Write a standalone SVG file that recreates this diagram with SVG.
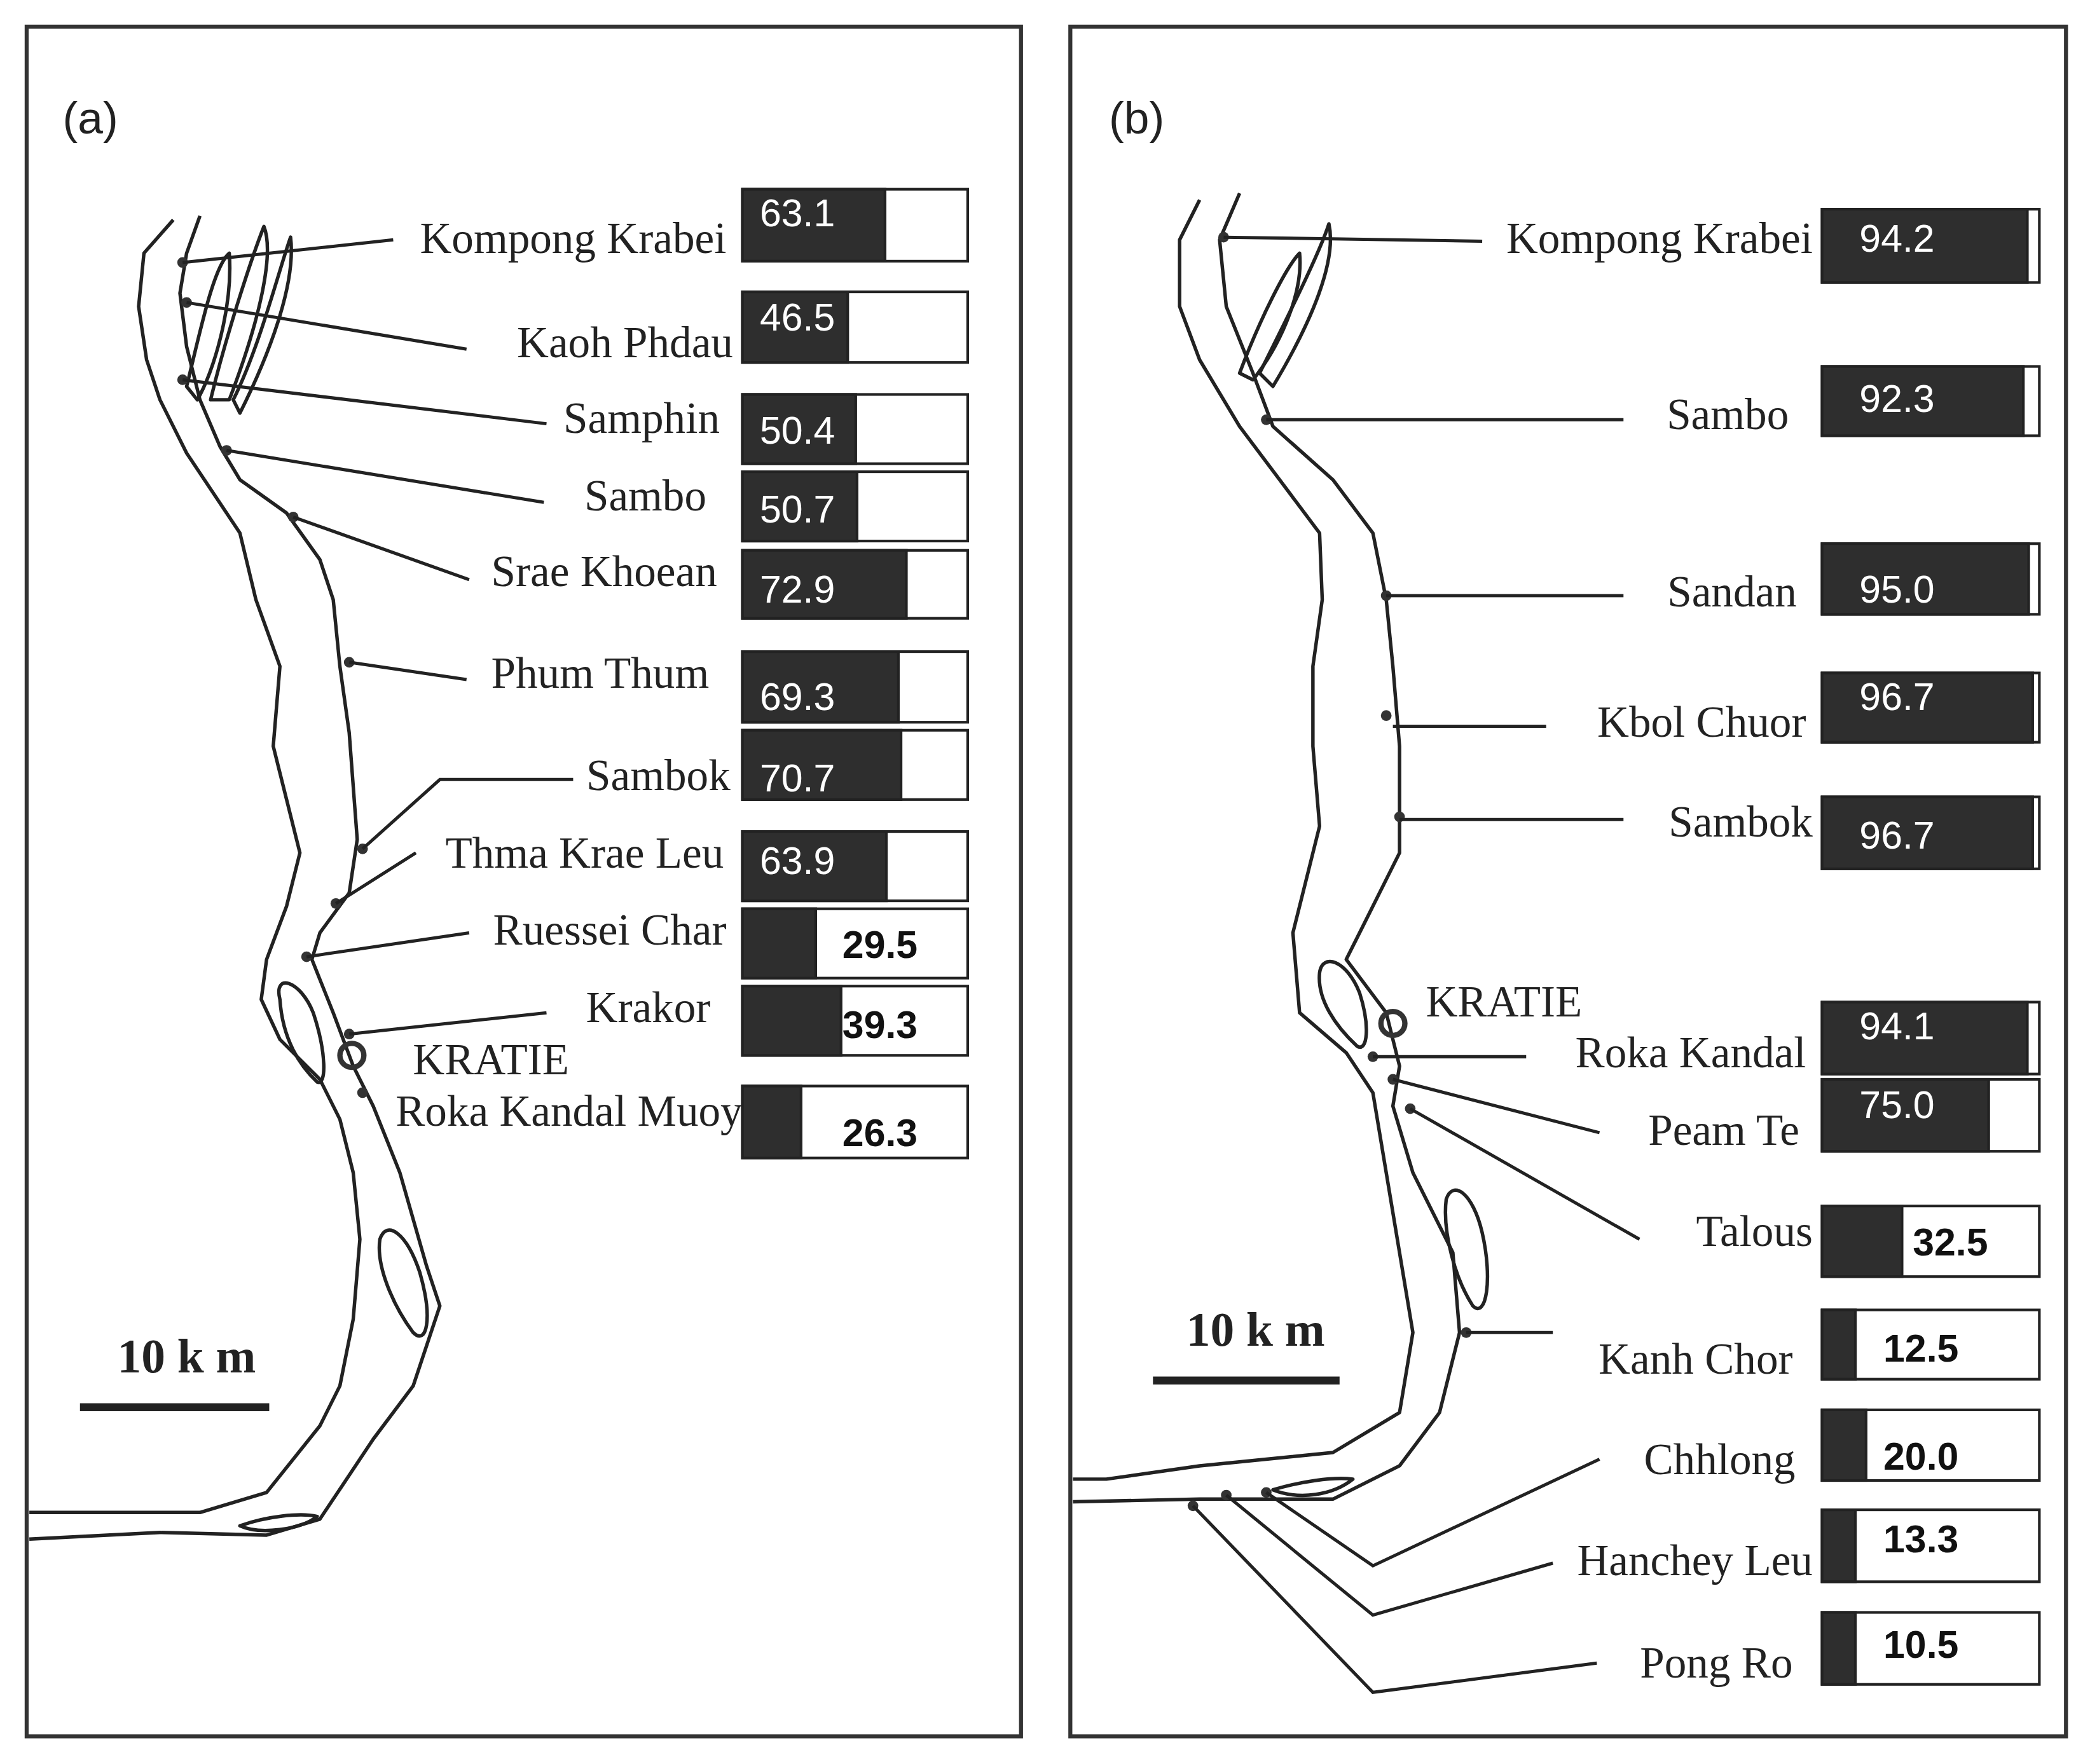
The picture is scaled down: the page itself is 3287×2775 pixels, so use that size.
<svg xmlns="http://www.w3.org/2000/svg" width="3287" height="2775" viewBox="0 0 3287 2775">
<style>
.fr{fill:#fff;stroke:#333;stroke-width:3}
.rv{fill:none;stroke:#222;stroke-width:2.6;stroke-linejoin:round}
.ld{fill:none;stroke:#222;stroke-width:2.4}
.dot{fill:#333}
.lb{font-family:"Liberation Serif",serif;font-size:33px;fill:#222;text-anchor:end}
.dk{fill:#2e2e2e;stroke:#222;stroke-width:2}
.wh{fill:#fff;stroke:#222;stroke-width:2}
.nw{font-family:"Liberation Sans",sans-serif;font-size:29px;fill:#fff}
.nb{font-family:"Liberation Sans",sans-serif;font-size:29px;font-weight:bold;fill:#111}
.pl{font-family:"Liberation Sans",sans-serif;font-size:34px;fill:#222}
.sc{font-family:"Liberation Serif",serif;font-size:36px;font-weight:bold;fill:#222}
</style>
<rect width="3287" height="2775" fill="#fff"/>
<g transform="scale(2.0963)">
<g id="panel-a">
<rect class="fr" x="20" y="20" width="746" height="1283"/>
<text class="pl" x="47" y="100">(a)</text>
<g id="river-a">
<polyline class="rv" points="130,165 108,190 104,230 110,270 120,300 140,340 180,400 192,450 210,500 205,560 215,600 225,640 215,680 200,720 196,750 210,780 240,810 255,840 265,880 270,930 265,990 255,1040 240,1070 200,1120 150,1135 60,1135 22,1135"/>
<polyline class="rv" points="150,162 140,190 135,220 140,260 150,300 165,335 180,360 215,385 240,420 250,450 255,500 262,550 268,630 262,670 240,700 234,720 250,760 265,800 280,830 300,880 320,950 330,980 310,1040 280,1080 260,1110 240,1140 200,1152 120,1150 22,1155"/>
<path class="rv" d="M140,290 C150,250 160,200 172,190 C175,230 160,280 148,300 Z"/>
<path class="rv" d="M158,300 C170,250 190,190 198,170 C206,190 195,240 172,300 Z"/>
<path class="rv" d="M175,300 C195,260 210,200 218,178 C222,210 205,260 180,310 Z"/>
<path class="rv" d="M210,750 C205,730 225,735 235,760 C245,790 245,815 238,812 C225,800 212,780 210,750 Z"/>
<path class="rv" d="M285,930 C290,915 305,925 315,955 C325,990 320,1010 310,1000 C295,980 282,950 285,930 Z"/>
<path class="rv" d="M180,1145 C200,1138 225,1135 238,1138 C225,1148 195,1152 180,1145 Z"/>
</g>
<g id="markers-a">
<circle class="dot" cx="137" cy="197" r="4"/><circle class="dot" cx="140" cy="227" r="4"/><circle class="dot" cx="137" cy="285" r="4"/><circle class="dot" cx="170" cy="338" r="4"/><circle class="dot" cx="220" cy="388" r="4"/><circle class="dot" cx="262" cy="497" r="4"/><circle class="dot" cx="272" cy="637" r="4"/><circle class="dot" cx="252" cy="678" r="4"/><circle class="dot" cx="230" cy="718" r="4"/><circle class="dot" cx="262" cy="776" r="4"/><circle class="dot" cx="272" cy="820" r="4"/>
<circle cx="264" cy="792" r="9" fill="none" stroke="#333" stroke-width="4"/>
</g>
<g id="connectors-a">
<line class="ld" x1="137" y1="197" x2="295" y2="180"/>
<line class="ld" x1="140" y1="227" x2="350" y2="262"/>
<line class="ld" x1="137" y1="285" x2="410" y2="318"/>
<line class="ld" x1="170" y1="338" x2="408" y2="377"/>
<line class="ld" x1="220" y1="388" x2="352" y2="435"/>
<line class="ld" x1="262" y1="497" x2="350" y2="510"/>
<polyline class="ld" points="272,637 330,585 430,585"/>
<line class="ld" x1="252" y1="678" x2="312" y2="640"/>
<line class="ld" x1="230" y1="718" x2="352" y2="700"/>
<line class="ld" x1="262" y1="776" x2="410" y2="760"/>
</g>
<g id="labels-a">
<text class="lb" x="545" y="190">Kompong Krabei</text>
<text class="lb" x="550" y="268">Kaoh Phdau</text>
<text class="lb" x="540" y="325">Samphin</text>
<text class="lb" x="530" y="383">Sambo</text>
<text class="lb" x="538" y="440">Srae Khoean</text>
<text class="lb" x="532" y="516">Phum Thum</text>
<text class="lb" x="548" y="593">Sambok</text>
<text class="lb" x="543" y="651">Thma Krae Leu</text>
<text class="lb" x="545" y="709">Ruessei Char</text>
<text class="lb" x="533" y="767">Krakor</text>
<text class="lb" x="427" y="806">KRATIE</text>
<text class="lb" x="557" y="845">Roka Kandal Muoy</text>
</g>
<g id="bars-a">
<rect class="wh" x="557" y="142" width="169" height="54"/><rect class="dk" x="557" y="142" width="107" height="54"/><text class="nw" x="570" y="170">63.1</text>
<rect class="wh" x="557" y="219" width="169" height="53"/><rect class="dk" x="557" y="219" width="79" height="53"/><text class="nw" x="570" y="248">46.5</text>
<rect class="wh" x="557" y="296" width="169" height="52"/><rect class="dk" x="557" y="296" width="85" height="52"/><text class="nw" x="570" y="333">50.4</text>
<rect class="wh" x="557" y="354" width="169" height="52"/><rect class="dk" x="557" y="354" width="86" height="52"/><text class="nw" x="570" y="392">50.7</text>
<rect class="wh" x="557" y="413" width="169" height="51"/><rect class="dk" x="557" y="413" width="123" height="51"/><text class="nw" x="570" y="452">72.9</text>
<rect class="wh" x="557" y="489" width="169" height="53"/><rect class="dk" x="557" y="489" width="117" height="53"/><text class="nw" x="570" y="533">69.3</text>
<rect class="wh" x="557" y="548" width="169" height="52"/><rect class="dk" x="557" y="548" width="119" height="52"/><text class="nw" x="570" y="594">70.7</text>
<rect class="wh" x="557" y="624" width="169" height="52"/><rect class="dk" x="557" y="624" width="108" height="52"/><text class="nw" x="570" y="656">63.9</text>
<rect class="wh" x="557" y="682" width="169" height="52"/><rect class="dk" x="557" y="682" width="55" height="52"/><text class="nb" x="632" y="719">29.5</text>
<rect class="wh" x="557" y="740" width="169" height="52"/><rect class="dk" x="557" y="740" width="74" height="52"/><text class="nb" x="632" y="779">39.3</text>
<rect class="wh" x="557" y="815" width="169" height="54"/><rect class="dk" x="557" y="815" width="44" height="54"/><text class="nb" x="632" y="860">26.3</text>
</g>
<g id="scale-a">
<text class="sc" x="88" y="1030">10 k m</text>
<line x1="60" y1="1056" x2="202" y2="1056" stroke="#222" stroke-width="6"/>
</g>
</g>
<g id="panel-b">
<rect class="fr" x="803" y="20" width="747" height="1283"/>
<text class="pl" x="832" y="100">(b)</text>
<g id="river-b">
<polyline class="rv" points="900,150 885,180 885,230 900,270 930,320 960,360 990,400 992,450 985,500 985,560 990,620 980,660 970,700 975,760 1010,790 1030,820 1040,880 1050,940 1060,1000 1050,1060 1000,1090 900,1100 830,1110 805,1110"/>
<polyline class="rv" points="930,145 915,180 920,230 940,280 955,320 1000,360 1030,400 1040,450 1045,500 1050,560 1050,640 1020,700 1010,720 1040,760 1050,800 1045,830 1060,880 1090,940 1095,1000 1080,1060 1050,1100 1000,1125 900,1125 805,1127"/>
<path class="rv" d="M930,280 C945,240 965,200 975,190 C978,220 960,260 940,285 Z"/>
<path class="rv" d="M945,280 C965,240 990,190 997,168 C1003,195 985,240 955,290 Z"/>
<path class="rv" d="M990,730 C992,715 1010,720 1020,745 C1028,770 1026,790 1018,785 C1002,770 988,750 990,730 Z"/>
<path class="rv" d="M1085,900 C1090,885 1105,895 1112,925 C1120,960 1115,990 1105,980 C1092,960 1082,925 1085,900 Z"/>
<path class="rv" d="M955,1118 C975,1112 1000,1108 1015,1110 C1000,1122 975,1126 955,1118 Z"/>
</g>
<g id="markers-b">
<circle class="dot" cx="918" cy="178" r="4"/><circle class="dot" cx="950" cy="315" r="4"/><circle class="dot" cx="1040" cy="447" r="4"/><circle class="dot" cx="1040" cy="537" r="4"/><circle class="dot" cx="1050" cy="613" r="4"/><circle class="dot" cx="1030" cy="793" r="4"/><circle class="dot" cx="1045" cy="810" r="4"/><circle class="dot" cx="1058" cy="832" r="4"/><circle class="dot" cx="1100" cy="1000" r="4"/><circle class="dot" cx="950" cy="1120" r="4"/><circle class="dot" cx="920" cy="1122" r="4"/><circle class="dot" cx="895" cy="1130" r="4"/>
<circle cx="1045" cy="768" r="9" fill="none" stroke="#333" stroke-width="4"/>
</g>
<g id="connectors-b">
<line class="ld" x1="918" y1="178" x2="1112" y2="181"/>
<line class="ld" x1="950" y1="315" x2="1218" y2="315"/>
<line class="ld" x1="1040" y1="447" x2="1218" y2="447"/>
<line class="ld" x1="1045" y1="545" x2="1160" y2="545"/>
<line class="ld" x1="1050" y1="615" x2="1218" y2="615"/>
<line class="ld" x1="1030" y1="793" x2="1145" y2="793"/>
<line class="ld" x1="1045" y1="810" x2="1200" y2="850"/>
<line class="ld" x1="1058" y1="832" x2="1230" y2="930"/>
<line class="ld" x1="1100" y1="1000" x2="1165" y2="1000"/>
<polyline class="ld" points="1200,1095 1030,1175 950,1120"/>
<polyline class="ld" points="1165,1173 1030,1212 920,1122"/>
<polyline class="ld" points="1198,1248 1030,1270 895,1130"/>
</g>
<g id="labels-b">
<text class="lb" x="1360" y="190">Kompong Krabei</text>
<text class="lb" x="1342" y="322">Sambo</text>
<text class="lb" x="1348" y="455">Sandan</text>
<text class="lb" x="1355" y="553">Kbol Chuor</text>
<text class="lb" x="1360" y="628">Sambok</text>
<text class="lb" x="1187" y="763">KRATIE</text>
<text class="lb" x="1355" y="801">Roka Kandal</text>
<text class="lb" x="1350" y="859">Peam Te</text>
<text class="lb" x="1360" y="935">Talous</text>
<text class="lb" x="1345" y="1031">Kanh Chor</text>
<text class="lb" x="1347" y="1106">Chhlong</text>
<text class="lb" x="1360" y="1182">Hanchey Leu</text>
<text class="lb" x="1345" y="1259">Pong Ro</text>
</g>
<g id="bars-b">
<rect class="wh" x="1367" y="157" width="163" height="55"/><rect class="dk" x="1367" y="157" width="154" height="55"/><text class="nw" x="1395" y="189">94.2</text>
<rect class="wh" x="1367" y="275" width="163" height="52"/><rect class="dk" x="1367" y="275" width="151" height="52"/><text class="nw" x="1395" y="309">92.3</text>
<rect class="wh" x="1367" y="408" width="163" height="53"/><rect class="dk" x="1367" y="408" width="155" height="53"/><text class="nw" x="1395" y="452">95.0</text>
<rect class="wh" x="1367" y="505" width="163" height="52"/><rect class="dk" x="1367" y="505" width="158" height="52"/><text class="nw" x="1395" y="533">96.7</text>
<rect class="wh" x="1367" y="598" width="163" height="54"/><rect class="dk" x="1367" y="598" width="158" height="54"/><text class="nw" x="1395" y="637">96.7</text>
<rect class="wh" x="1367" y="752" width="163" height="54"/><rect class="dk" x="1367" y="752" width="154" height="54"/><text class="nw" x="1395" y="780">94.1</text>
<rect class="wh" x="1367" y="810" width="163" height="54"/><rect class="dk" x="1367" y="810" width="125" height="54"/><text class="nw" x="1395" y="839">75.0</text>
<rect class="wh" x="1367" y="905" width="163" height="53"/><rect class="dk" x="1367" y="905" width="60" height="53"/><text class="nb" x="1435" y="942">32.5</text>
<rect class="wh" x="1367" y="983" width="163" height="52"/><rect class="dk" x="1367" y="983" width="25" height="52"/><text class="nb" x="1413" y="1022">12.5</text>
<rect class="wh" x="1367" y="1058" width="163" height="53"/><rect class="dk" x="1367" y="1058" width="33" height="53"/><text class="nb" x="1413" y="1103">20.0</text>
<rect class="wh" x="1367" y="1133" width="163" height="54"/><rect class="dk" x="1367" y="1133" width="25" height="54"/><text class="nb" x="1413" y="1165">13.3</text>
<rect class="wh" x="1367" y="1210" width="163" height="54"/><rect class="dk" x="1367" y="1210" width="25" height="54"/><text class="nb" x="1413" y="1244">10.5</text>
</g>
<g id="scale-b">
<text class="sc" x="890" y="1010">10 k m</text>
<line x1="865" y1="1036" x2="1005" y2="1036" stroke="#222" stroke-width="6"/>
</g>
</g>
</g>
</svg>
